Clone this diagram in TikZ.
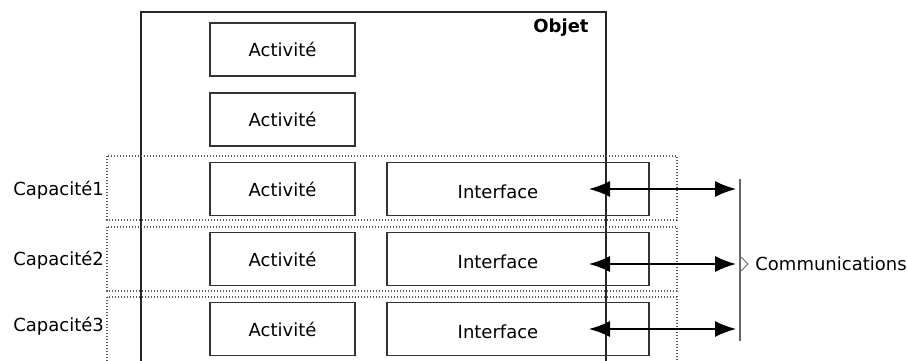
\documentclass[tikz,border=0pt]{standalone}
\usepackage{fontspec}
\setmainfont{DejaVu Sans}
\usetikzlibrary{arrows.meta}
\tikzstyle{every node}=[font=\fontsize{9}{11}\selectfont]
\tikzstyle{actbox}=[draw=black!80,line width=0.6pt,minimum width=72.5pt,minimum height=26.5pt,inner sep=0pt]
\tikzstyle{ifbox}=[draw=black!80,line width=0.6pt,minimum width=131pt,minimum height=26.5pt,inner sep=0pt]
\tikzstyle{iftext}=[label={[xshift=-10pt,yshift=-1.2pt]center:Interface}]
\tikzstyle{caprow}=[draw=black!65,dash pattern=on 0.7pt off 0.8pt,line width=0.7pt]
\tikzstyle{comm}=[{Latex[length=10.5pt,width=8pt]}-{Latex[length=10.5pt,width=8pt]},line width=0.7pt]

\begin{document}
\begin{tikzpicture}[x=0.5pt,y=-0.5pt]
          \useasboundingbox (0,0) rectangle (907,360);
          \draw[black!85,line width=0.7pt] (141,372) |- (606,12) -- (606,372);
          \node[anchor=east,inner sep=0pt,font=\fontsize{9}{11}\selectfont\bfseries] (objet) at (589,28) {Objet};
          % capacites
          \draw[caprow] (107,156) rectangle (677,220);
          \draw[caprow] (107,227) rectangle (677,291);
          \draw[caprow] (107,297) rectangle (677,372);
          \node[anchor=west,inner sep=0pt] (cap1) at (13,190) {Capacité1};
          \node[anchor=west,inner sep=0pt] (cap2) at (13,260) {Capacité2};
          \node[anchor=west,inner sep=0pt] (cap3) at (13,326) {Capacité3};
          % activites
          \node[actbox] (act1) at (282.5,49.5) {Activité};
          \node[actbox] (act2) at (282.5,119.5) {Activité};
          \node[actbox] (act3) at (282.5,189) {Activité};
          \node[actbox] (act4) at (282.5,259) {Activité};
          \node[actbox] (act5) at (282.5,329) {Activité};
          % interfaces
          \node[ifbox,iftext] (if1) at (518,189) {};
          \node[ifbox,iftext] (if2) at (518,259) {};
          \node[ifbox,iftext] (if3) at (518,329) {};
          % communications
          \coordinate (in1) at (589,189);
          \coordinate (in2) at (589,264);
          \coordinate (in3) at (589,329);
          \coordinate (out1) at (736,189);
          \coordinate (out2) at (736,264);
          \coordinate (out3) at (736,329);
          \draw[comm] (in1) -- (out1);
          \draw[comm] (in2) -- (out2);
          \draw[comm] (in3) -- (out3);
          \coordinate (bartop) at (740,179);
          \coordinate (barbot) at (740,341);
          \draw[black!60,line width=0.6pt] (bartop) -- (barbot);
          \draw[black!60,line width=0.5pt] (741,257) -- (748,264) -- (741,271);
          \node[anchor=west,inner sep=0pt] (comms) at (755,264) {Communications};
        \end{tikzpicture}
\end{document}
